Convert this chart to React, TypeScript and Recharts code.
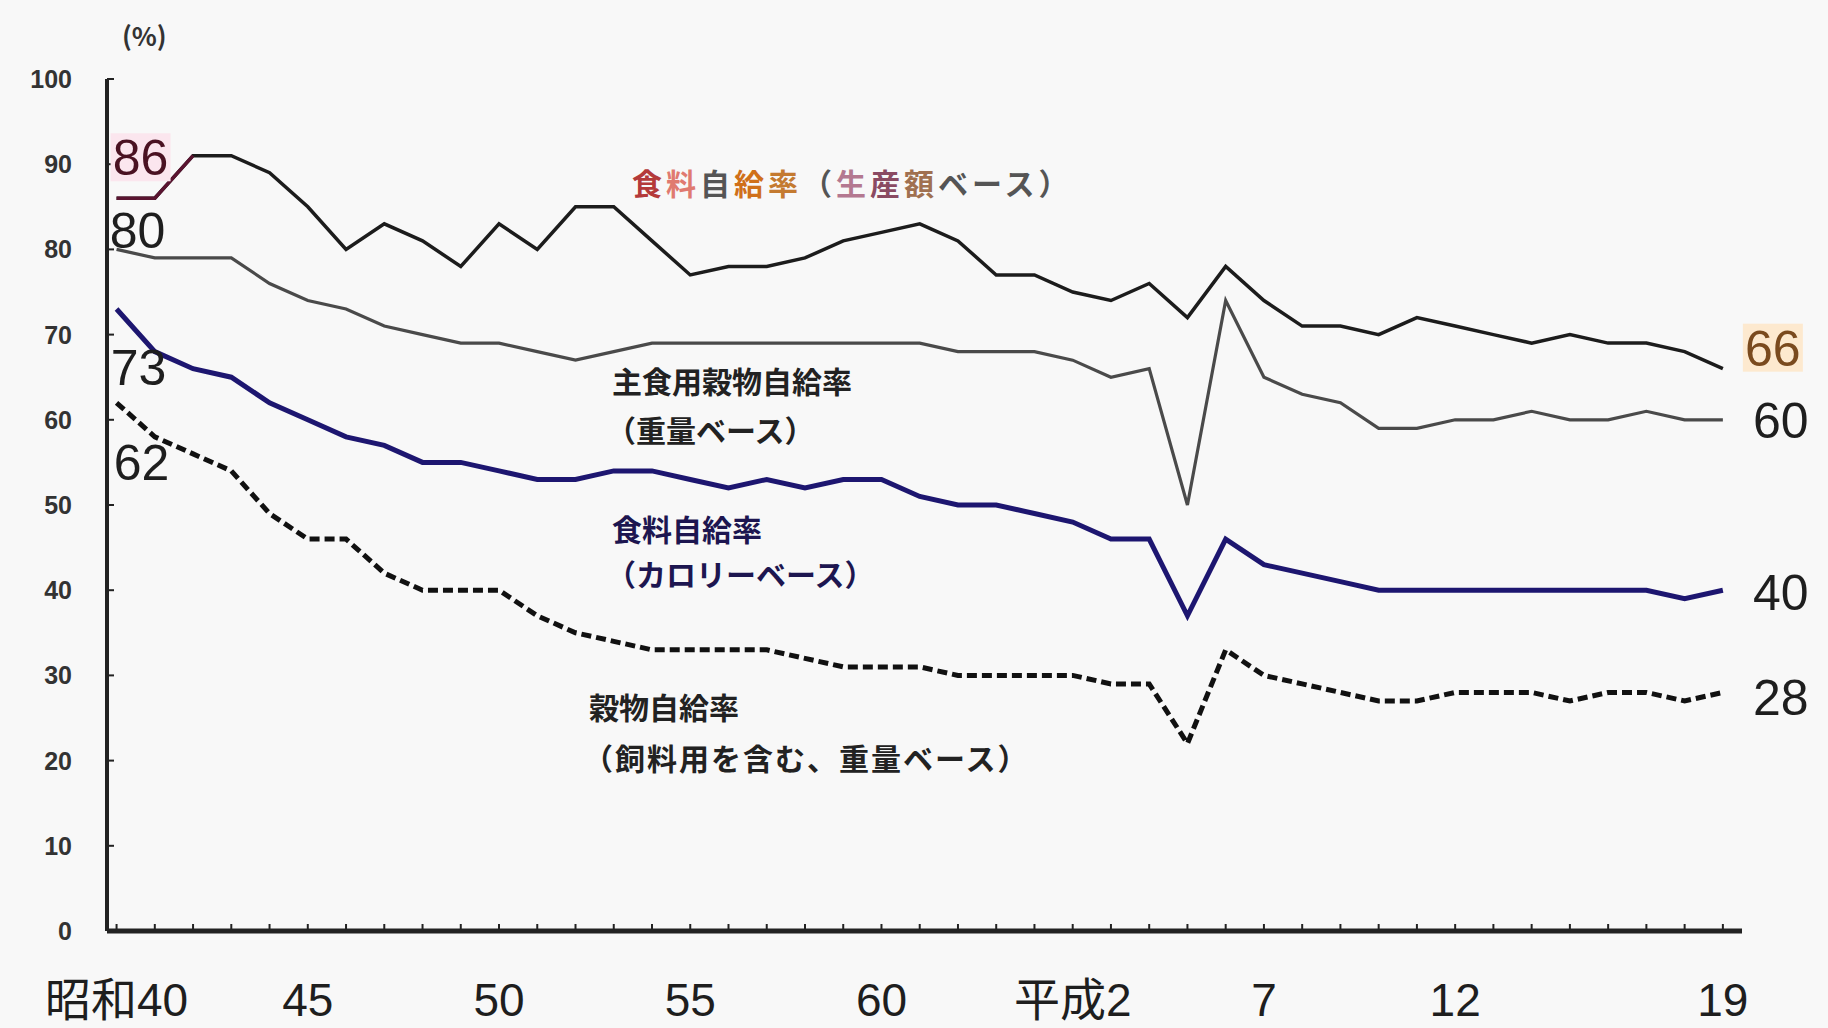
import React from "react";
import { LineChart, Line, XAxis, YAxis, LabelList } from "recharts";

// 年度（昭和40〜平成19）
const years = [
  1965, 1966, 1967, 1968, 1969, 1970, 1971, 1972, 1973, 1974,
  1975, 1976, 1977, 1978, 1979, 1980, 1981, 1982, 1983, 1984,
  1985, 1986, 1987, 1988, 1989, 1990, 1991, 1992, 1993, 1994,
  1995, 1996, 1997, 1998, 1999, 2000, 2001, 2002, 2003, 2004,
  2005, 2006, 2007
];

// 食料自給率（生産額ベース）
const productionRate = [
  86, 86, 91, 91, 89, 85, 80, 83, 81, 78,
  83, 80, 85, 85, 81, 77, 78, 78, 79, 81,
  82, 83, 81, 77, 77, 75, 74, 76, 72, 78,
  74, 71, 71, 70, 72, 71, 70, 69, 70, 69,
  69, 68, 66
];

// 主食用穀物自給率（重量ベース）
const stapleGrainRate = [
  80, 79, 79, 79, 76, 74, 73, 71, 70, 69,
  69, 68, 67, 68, 69, 69, 69, 69, 69, 69,
  69, 69, 68, 68, 68, 67, 65, 66, 50, 74,
  65, 63, 62, 59, 59, 60, 60, 61, 60, 60,
  61, 60, 60
];

// 食料自給率（カロリーベース）
const calorieRate = [
  73, 68, 66, 65, 62, 60, 58, 57, 55, 55,
  54, 53, 53, 54, 54, 53, 52, 53, 52, 53,
  53, 51, 50, 50, 49, 48, 46, 46, 37, 46,
  43, 42, 41, 40, 40, 40, 40, 40, 40, 40,
  40, 39, 40
];

// 穀物自給率（飼料用を含む、重量ベース）
const grainRate = [
  62, 58, 56, 54, 49, 46, 46, 42, 40, 40,
  40, 37, 35, 34, 33, 33, 33, 33, 32, 31,
  31, 31, 30, 30, 30, 30, 29, 29, 22, 33,
  30, 29, 28, 27, 27, 28, 28, 28, 27, 28,
  28, 27, 28
];

const yTicks = [0, 10, 20, 30, 40, 50, 60, 70, 80, 90, 100];
const labelYears = [1965, 1970, 1975, 1980, 1985, 1990, 1995, 2000, 2007];
const labelTexts = ["昭和40", "45", "50", "55", "60", "平成2", "7", "12", "19"];

const data = years.map((year, i) => ({
  year,
  prod: productionRate[i],
  staple: stapleGrainRate[i],
  calorie: calorieRate[i],
  grain: grainRate[i]
}));

const NUM_FONT = "'Liberation Sans Narrow', 'Liberation Sans', Arial, sans-serif";
const JP_FONT = "'Noto Sans CJK JP', 'Noto Sans', sans-serif";

const XTick = (props: any) => {
  const { x, y, payload } = props;
  const idx = labelYears.indexOf(payload.value);
  return (
    <g>
      <line x1={x} x2={x} y1={y} y2={y - 7} stroke="#222" strokeWidth={2} />
      {idx >= 0 && (
        <text
          x={x}
          y={y + 85}
          textAnchor="middle"
          fontSize={46}
          fill="#1e1e1e"
          fontFamily={`'Liberation Sans Narrow', 'Liberation Sans', 'Noto Sans CJK JP', sans-serif`}
        >
          {labelTexts[idx]}
        </text>
      )}
    </g>
  );
};

const YTick = (props: any) => {
  const { x, y, payload } = props;
  return (
    <g>
      <line x1={x} x2={x + 7} y1={y} y2={y} stroke="#222" strokeWidth={2} />
      <text
        x={x - 35}
        y={y}
        dy="0.36em"
        textAnchor="end"
        fontSize={25}
        fontWeight={700}
        fill="#333"
        fontFamily={NUM_FONT}
      >
        {payload.value}
      </text>
    </g>
  );
};

type EndOpt = { dx: number; dy: number; fill: string; bg?: string };

// 左端・右端の数値ラベル
const makeEndLabel = (first: EndOpt, last: EndOpt) => (props: any) => {
  const { x, y, value, index } = props;
  const opt = index === 0 ? first : index === years.length - 1 ? last : null;
  if (!opt) return null;
  const cx = x + opt.dx;
  const cy = y + opt.dy;
  return (
    <g>
      {opt.bg && <rect x={cx - 30} y={cy - 24} width={60} height={48} fill={opt.bg} />}
      <text
        x={cx}
        y={cy}
        dy="0.36em"
        textAnchor="middle"
        fontSize={50}
        fill={opt.fill}
        fontFamily={NUM_FONT}
      >
        {value}
      </text>
    </g>
  );
};

const App = () => {
  return (
    <div
      style={{
        position: "absolute",
        left: 0,
        top: 0,
        width: 1828,
        height: 1028,
        background: "#f8f8f8",
        overflow: "hidden"
      }}
    >
      <LineChart
        width={1828}
        height={1028}
        data={data}
        margin={{ top: 79, right: 86, bottom: 7, left: 57 }}
      >
        <XAxis
          dataKey="year"
          type="number"
          domain={[1964.75, 2007.5]}
          ticks={years}
          interval={0}
          allowDataOverflow
          height={90}
          tickSize={0}
          tickMargin={0}
          tickLine={false}
          axisLine={{ stroke: "#222", strokeWidth: 5 }}
          tick={<XTick />}
        />
        <YAxis
          type="number"
          domain={[0, 100]}
          ticks={yTicks}
          interval={0}
          width={50}
          tickSize={0}
          tickMargin={0}
          tickLine={false}
          axisLine={{ stroke: "#222", strokeWidth: 4 }}
          tick={<YTick />}
        />
        <Line
          dataKey="staple"
          stroke="#4a4a4a"
          strokeWidth={3.2}
          dot={false}
          isAnimationActive={false}
        >
          <LabelList
            dataKey="staple"
            content={makeEndLabel(
              { dx: 21, dy: -19, fill: "#1e1e1e" },
              { dx: 58, dy: 0, fill: "#1e1e1e" }
            )}
          />
        </Line>
        <Line
          dataKey="prod"
          stroke="#1c1c1c"
          strokeWidth={3.5}
          dot={false}
          isAnimationActive={false}
        >
          <LabelList
            dataKey="prod"
            content={makeEndLabel(
              { dx: 24, dy: -41, fill: "#4a1222", bg: "#fbe6ee" },
              { dx: 50, dy: -21, fill: "#7a4a1e", bg: "#fde9cf" }
            )}
          />
        </Line>
        <Line
          dataKey={(d: any) => (d.year <= 1967 ? d.prod : null)}
          stroke="#5a1430"
          strokeWidth={3.5}
          dot={false}
          isAnimationActive={false}
        />
        <Line
          dataKey="calorie"
          stroke="#1d1670"
          strokeWidth={5}
          dot={false}
          isAnimationActive={false}
        >
          <LabelList
            dataKey="calorie"
            content={makeEndLabel(
              { dx: 22, dy: 58, fill: "#1e1e1e" },
              { dx: 58, dy: 2, fill: "#1e1e1e" }
            )}
          />
        </Line>
        <Line
          dataKey="grain"
          stroke="#111"
          strokeWidth={5}
          strokeDasharray="10 5"
          dot={false}
          isAnimationActive={false}
        >
          <LabelList
            dataKey="grain"
            content={makeEndLabel(
              { dx: 25, dy: 59, fill: "#1e1e1e" },
              { dx: 58, dy: 5, fill: "#1e1e1e" }
            )}
          />
        </Line>
      </LineChart>

      {/* 系列名の注記 */}
      <svg
        width={1828}
        height={1028}
        style={{ position: "absolute", left: 0, top: 0, pointerEvents: "none" }}
      >
        <text x={122} y={46} fontSize={26} fontWeight={700} fill="#333" fontFamily={JP_FONT}>
          (%)
        </text>
        <text x={632} y={195} fontSize={30} letterSpacing={4} fontFamily={JP_FONT} fontWeight={700}>
          <tspan fill="#b43a3a">食</tspan>
          <tspan fill="#e07a70">料</tspan>
          <tspan fill="#555">自</tspan>
          <tspan fill="#d0701a">給</tspan>
          <tspan fill="#c47a30">率</tspan>
          <tspan fill="#555">（</tspan>
          <tspan fill="#b47890">生</tspan>
          <tspan fill="#8a4a62">産</tspan>
          <tspan fill="#a07050">額</tspan>
          <tspan fill="#555">ベース）</tspan>
        </text>
        <g fontSize={30} fill="#222" fontFamily={JP_FONT} fontWeight={700}>
          <text x={612} y={393}>主食用穀物自給率</text>
          <text x={606} y={442}>（重量ベース）</text>
          <text x={612} y={541} fill="#1d1650">食料自給率</text>
          <text x={606} y={586} fill="#1d1650">（カロリーベース）</text>
          <text x={589} y={719}>穀物自給率</text>
          <text x={583} y={770} letterSpacing={2}>（飼料用を含む、重量ベース）</text>
        </g>
      </svg>
    </div>
  );
};

export default App;
